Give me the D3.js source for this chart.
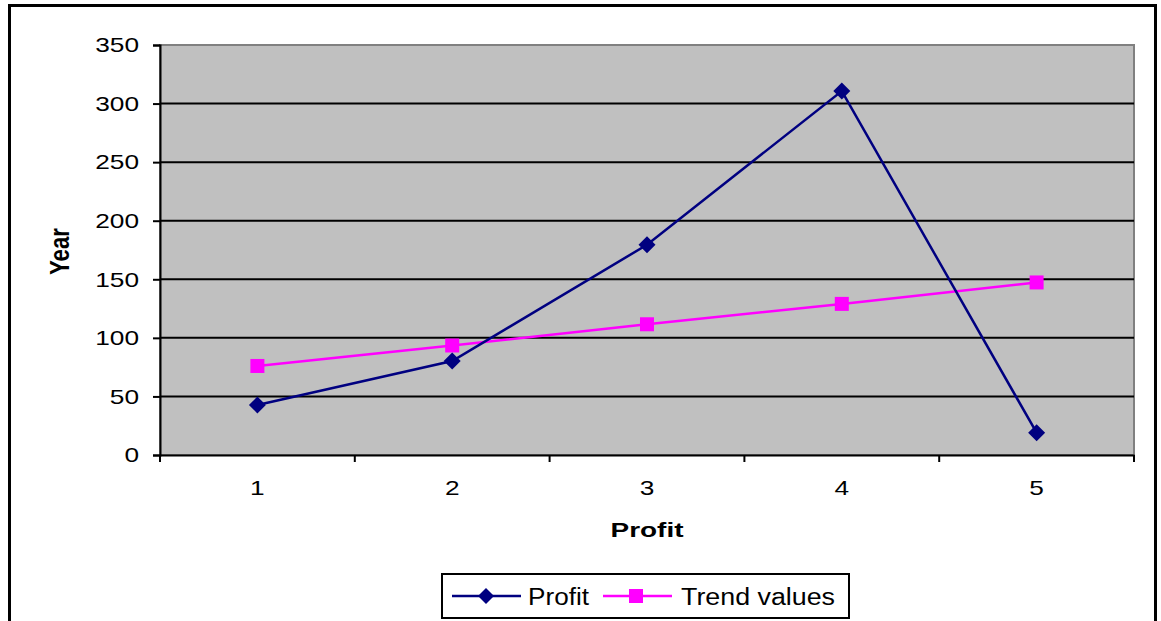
<!DOCTYPE html>
<html><head><meta charset="utf-8">
<script src="https://cdn.jsdelivr.net/npm/d3@7"></script>
<style>
html,body{margin:0;padding:0;background:#fff;}
svg{display:block;font-family:"Liberation Sans",Arial,sans-serif;}
</style></head><body>
<svg id="c" width="1161" height="621"></svg>
<script>
const categories = [1, 2, 3, 4, 5];
const profit = [42.7, 80.2, 179.5, 310.7, 19];
const trend = [76, 93.5, 111.6, 129, 147.3];
const yTicks = [0, 50, 100, 150, 200, 250, 300, 350];
const seriesNames = ["Profit", "Trend values"];

const svg = d3.select("#c");
function stretch(sel, f) {
  sel.each(function () {
    const w = this.getComputedTextLength();
    d3.select(this).attr("textLength", w * f).attr("lengthAdjust", "spacingAndGlyphs");
  });
}
// outer frame
svg.append("rect").attr("x", 9.5).attr("y", 5.5).attr("width", 1146).attr("height", 640)
  .attr("fill", "#fff").attr("stroke", "#000").attr("stroke-width", 3);

const L = 160, R = 1134, T = 45, B = 455;
const x = d3.scaleBand().domain(categories).range([L, R]);
const y = d3.scaleLinear().domain([0, 350]).range([B, T]);

// plot area
svg.append("rect").attr("x", L).attr("y", T).attr("width", R - L).attr("height", B - T)
  .attr("fill", "#c0c0c0").attr("stroke", "#808080").attr("stroke-width", 2);

// gridlines
svg.append("g").selectAll("line").data(yTicks.filter(d => d > 0 && d < 350)).join("line")
  .attr("x1", L).attr("x2", R).attr("y1", d => y(d)).attr("y2", d => y(d))
  .attr("stroke", "#000").attr("stroke-width", 2);

// y axis
const ya = svg.append("g").attr("transform", `translate(${L},0)`)
  .call(d3.axisLeft(y).tickValues(yTicks).tickSize(7).tickPadding(14));
ya.select(".domain").attr("stroke", "#000").attr("stroke-width", 2);
ya.selectAll(".tick line").attr("stroke", "#000").attr("stroke-width", 2);
ya.selectAll("text").attr("font-size", 21).attr("fill", "#000")
  .attr("font-family", "Liberation Sans, Arial, sans-serif").call(stretch, 1.25);

// x axis
const xa = svg.append("g").attr("transform", `translate(0,${B})`)
  .call(d3.axisBottom(x).tickSize(0).tickPadding(25));
xa.select(".domain").attr("stroke", "#000").attr("stroke-width", 2);
xa.selectAll("text").attr("font-size", 21).attr("fill", "#000")
  .attr("font-family", "Liberation Sans, Arial, sans-serif").call(stretch, 1.25);
// boundary tick marks
const bounds = categories.map(c => x(c)).concat([x(categories[categories.length - 1]) + x.bandwidth()]);
svg.append("g").selectAll("line").data(bounds).join("line")
  .attr("x1", d => d).attr("x2", d => d).attr("y1", B).attr("y2", B + 7)
  .attr("stroke", "#000").attr("stroke-width", 2);

// axis titles
svg.append("text").attr("x", (L + R) / 2).attr("y", 537).attr("text-anchor", "middle")
  .attr("font-size", 20).attr("font-weight", "bold").attr("textLength", 73)
  .attr("lengthAdjust", "spacingAndGlyphs").text("Profit");
svg.append("text").attr("transform", `translate(69,251.5) scale(1.3,1) rotate(-90)`).attr("text-anchor", "middle")
  .attr("font-size", 21).attr("font-weight", "bold").attr("textLength", 47)
  .attr("lengthAdjust", "spacingAndGlyphs").text("Year");

const cx = d => x(d) + x.bandwidth() / 2;
const line = d3.line().x((d, i) => cx(categories[i])).y(d => y(d));

// trend
svg.append("path").datum(trend).attr("d", line).attr("fill", "none")
  .attr("stroke", "#ff00ff").attr("stroke-width", 2.5);
svg.append("g").selectAll("rect").data(trend).join("rect")
  .attr("x", (d, i) => cx(categories[i]) - 7).attr("y", d => y(d) - 7)
  .attr("width", 14).attr("height", 14).attr("fill", "#ff00ff");

// profit
svg.append("path").datum(profit).attr("d", line).attr("fill", "none")
  .attr("stroke", "#000080").attr("stroke-width", 2.5);
svg.append("g").selectAll("path").data(profit).join("path")
  .attr("transform", (d, i) => `translate(${cx(categories[i])},${y(d)})`)
  .attr("d", "M0,-8.5L8.5,0L0,8.5L-8.5,0Z").attr("fill", "#000080");

// legend
const lg = svg.append("g");
lg.append("rect").attr("x", 442).attr("y", 574).attr("width", 407).attr("height", 44)
  .attr("fill", "#fff").attr("stroke", "#000").attr("stroke-width", 2);
const ly = 596;
lg.append("line").attr("x1", 452).attr("x2", 521).attr("y1", ly).attr("y2", ly)
  .attr("stroke", "#000080").attr("stroke-width", 2.5);
lg.append("path").attr("transform", `translate(486,${ly})`).attr("d", "M0,-8L8,0L0,8L-8,0Z").attr("fill", "#000080");
lg.append("text").attr("x", 528).attr("y", ly + 8.5).attr("font-size", 23).attr("textLength", 61)
  .attr("lengthAdjust", "spacingAndGlyphs").text(seriesNames[0]);
lg.append("line").attr("x1", 603).attr("x2", 672).attr("y1", ly).attr("y2", ly)
  .attr("stroke", "#ff00ff").attr("stroke-width", 2.5);
lg.append("rect").attr("x", 629).attr("y", ly - 7).attr("width", 14).attr("height", 14).attr("fill", "#ff00ff");
lg.append("text").attr("x", 681).attr("y", ly + 8.5).attr("font-size", 23).attr("textLength", 154)
  .attr("lengthAdjust", "spacingAndGlyphs").text(seriesNames[1]);
</script>
</body></html>
